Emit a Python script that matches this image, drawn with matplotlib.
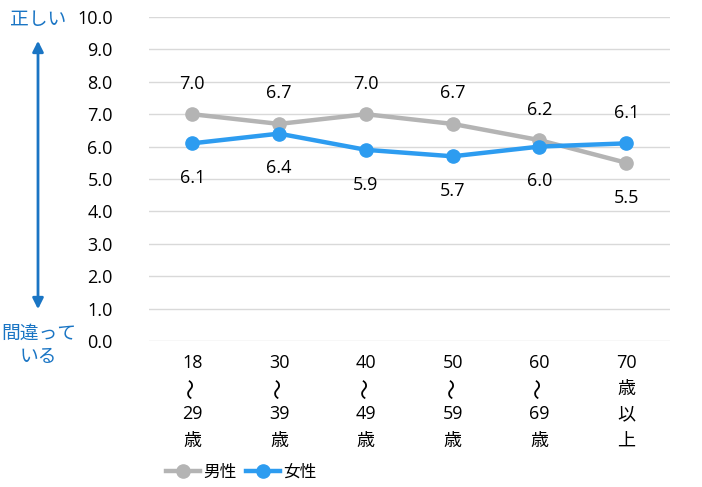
import matplotlib
matplotlib.use("Agg")
import matplotlib.pyplot as plt
import numpy as np

plt.rcParams['font.family'] = ['Open Sans', 'DejaVu Sans', 'Noto Sans CJK JP']

# each age group is written top-to-bottom; "~" marks the rotated wave dash
categories = [["18", "~", "29", "歳"], ["30", "~", "39", "歳"], ["40", "~", "49", "歳"],
              ["50", "~", "59", "歳"], ["60", "~", "69", "歳"], ["70", "歳", "以", "上"]]
male = [7.0, 6.7, 7.0, 6.7, 6.2, 5.5]
female = [6.1, 6.4, 5.9, 5.7, 6.0, 6.1]
yticks = np.arange(0, 10.5, 1.0)

gray = "#b4b4b4"
blue = "#2d9cf0"
note_blue = "#1a75c4"
fs = 13

fig = plt.figure(figsize=(7.02, 4.87), dpi=100)
ax = fig.add_axes([0.212, 0.300, 0.742, 0.665])
ax_h = 0.665 * 487

x = np.arange(len(categories))
ax.plot(x, male, color=gray, lw=3.2, marker="o", ms=9.5, label="男性", zorder=3)
ax.plot(x, female, color=blue, lw=3.2, marker="o", ms=9.5, label="女性", zorder=4)

# value labels: the higher series gets its label above, the lower one below
for i in range(len(x)):
    m, f = male[i], female[i]
    up_m = m >= f
    ax.annotate(f"{m:.1f}", (x[i], m), xytext=(0, 22 if up_m else -25),
                textcoords="offset points", ha="center", va="center", fontsize=fs)
    ax.annotate(f"{f:.1f}", (x[i], f), xytext=(0, -25 if up_m else 22),
                textcoords="offset points", ha="center", va="center", fontsize=fs)

ax.set_xlim(-0.5, len(x) - 0.5)
ax.set_ylim(0, 10)
ax.set_yticks(yticks)
ax.set_yticklabels([f"{v:.1f}" for v in yticks], fontsize=fs)
ax.set_xticks(x)
ax.set_xticklabels([])
ax.tick_params(axis="both", length=0)
ax.tick_params(axis="y", pad=26)
ax.grid(axis="y", color="#d9d9d9", lw=1)
ax.set_axisbelow(True)
for s in ax.spines.values():
    s.set_visible(False)

# vertical category labels below the axis
line_px = [22, 48, 73, 100]
trans = ax.get_xaxis_transform()
for i, lines in enumerate(categories):
    for j, s in enumerate(lines):
        yy = -line_px[j] / ax_h
        if s == "~":
            ax.text(x[i], yy, "〜", transform=trans, rotation=90, fontsize=15,
                    family="Noto Sans CJK JP", ha="center", va="center")
        else:
            ax.text(x[i], yy, s, transform=trans, fontsize=fs,
                    ha="center", va="center")

# direction note on the left
fig.text(38 / 702, 1 - 20 / 487, "正しい", color=note_blue, fontsize=13.5,
         family="Noto Sans CJK JP", ha="center", va="center")
fig.text(38.5 / 702, 1 - 345 / 487, "間違って\nいる", color=note_blue, fontsize=13.5,
         family="Noto Sans CJK JP", ha="center", va="center", linespacing=1.1)
fig.add_artist(matplotlib.patches.FancyArrowPatch(
    (38 / 702, 1 - 312 / 487), (38 / 702, 1 - 38 / 487),
    transform=fig.transFigure, arrowstyle="<|-|>", mutation_scale=16,
    color=note_blue, lw=2))

leg = fig.legend(loc="lower left", bbox_to_anchor=(158 / 702, -0.005), ncol=2, frameon=False,
                 fontsize=12, handlelength=2.0, handletextpad=0.2, columnspacing=0.6,
                 borderaxespad=0.1)
for t in leg.get_texts():
    t.set_family("Noto Sans CJK JP")

fig.savefig("out.png", dpi=100)
